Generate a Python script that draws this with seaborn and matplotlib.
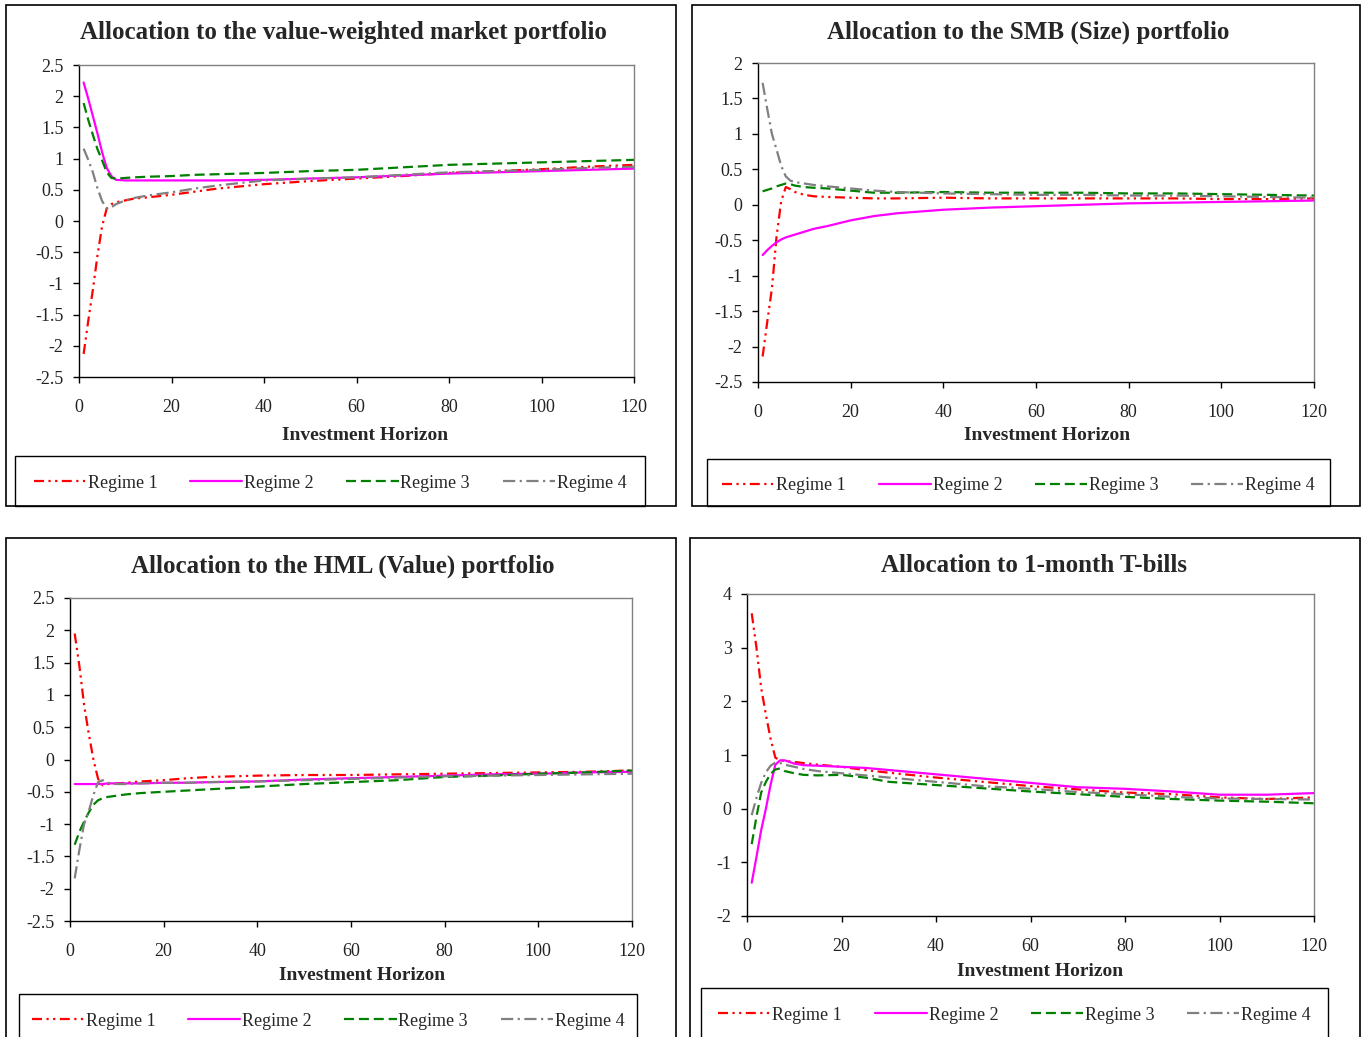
import numpy as np
import pandas as pd
import matplotlib
matplotlib.use('Agg')
import matplotlib.pyplot as plt
from matplotlib.patches import Rectangle
import seaborn as sns

sns.set_style('white')
plt.rcParams['font.family'] = ['Liberation Serif', 'DejaVu Serif']
plt.rcParams['axes.unicode_minus'] = False

# --- data ---
horizon = [1, 2, 3, 4, 5, 6, 7, 8, 10, 12, 15, 20, 25, 30, 40, 50, 60, 70, 80, 90, 100, 110, 120]
regimes = ['Regime 1', 'Regime 2', 'Regime 3', 'Regime 4']

titles = ['Allocation to the value-weighted market portfolio',
          'Allocation to the SMB (Size) portfolio',
          'Allocation to the HML (Value) portfolio',
          'Allocation to 1-month T-bills']

# market portfolio
mkt_r1 = [-2.13, -1.6, -1.1, -0.55, -0.08, 0.2, 0.27, 0.3, 0.33, 0.36, 0.38, 0.42, 0.47, 0.52, 0.59, 0.64, 0.68, 0.72, 0.77, 0.8, 0.83, 0.87, 0.9]
mkt_r2 = [2.22, 1.96, 1.68, 1.4, 1.1, 0.85, 0.72, 0.66, 0.65, 0.65, 0.65, 0.65, 0.65, 0.65, 0.66, 0.68, 0.7, 0.73, 0.76, 0.78, 0.8, 0.82, 0.84]
mkt_r3 = [1.89, 1.62, 1.38, 1.15, 0.97, 0.78, 0.69, 0.68, 0.69, 0.7, 0.71, 0.72, 0.74, 0.75, 0.77, 0.8, 0.82, 0.86, 0.9, 0.92, 0.94, 0.96, 0.98]
mkt_r4 = [1.16, 0.98, 0.78, 0.52, 0.32, 0.2, 0.22, 0.27, 0.33, 0.37, 0.41, 0.46, 0.52, 0.57, 0.65, 0.68, 0.7, 0.74, 0.78, 0.8, 0.82, 0.85, 0.87]

# SMB portfolio
smb_r1 = [-2.14, -1.65, -1.18, -0.45, 0.05, 0.25, 0.22, 0.18, 0.14, 0.12, 0.11, 0.1, 0.09, 0.09, 0.1, 0.09, 0.09, 0.09, 0.09, 0.09, 0.08, 0.08, 0.09]
smb_r2 = [-0.71, -0.64, -0.58, -0.53, -0.49, -0.46, -0.44, -0.42, -0.38, -0.34, -0.3, -0.22, -0.16, -0.12, -0.07, -0.04, -0.02, 0.0, 0.02, 0.03, 0.04, 0.05, 0.06]
smb_r3 = [0.19, 0.21, 0.23, 0.26, 0.28, 0.3, 0.29, 0.27, 0.25, 0.24, 0.23, 0.2, 0.17, 0.17, 0.18, 0.17, 0.17, 0.17, 0.16, 0.16, 0.15, 0.14, 0.13]
smb_r4 = [1.72, 1.35, 1.0, 0.78, 0.55, 0.4, 0.34, 0.32, 0.3, 0.28, 0.26, 0.23, 0.2, 0.18, 0.16, 0.15, 0.14, 0.14, 0.13, 0.13, 0.12, 0.11, 0.1]

# HML portfolio
hml_r1 = [1.95, 1.45, 0.85, 0.4, 0.0, -0.3, -0.4, -0.38, -0.37, -0.36, -0.34, -0.32, -0.29, -0.27, -0.25, -0.24, -0.24, -0.23, -0.22, -0.21, -0.2, -0.19, -0.17]
hml_r2 = [-0.38, -0.38, -0.38, -0.38, -0.38, -0.38, -0.38, -0.37, -0.37, -0.37, -0.37, -0.36, -0.36, -0.35, -0.34, -0.31, -0.29, -0.27, -0.25, -0.23, -0.22, -0.2, -0.19]
hml_r3 = [-1.32, -1.12, -0.96, -0.82, -0.7, -0.63, -0.6, -0.58, -0.56, -0.54, -0.52, -0.5, -0.48, -0.46, -0.42, -0.38, -0.35, -0.32, -0.27, -0.25, -0.22, -0.2, -0.17]
hml_r4 = [-1.84, -1.4, -1.0, -0.8, -0.55, -0.35, -0.32, -0.36, -0.38, -0.38, -0.37, -0.36, -0.36, -0.35, -0.34, -0.32, -0.3, -0.28, -0.26, -0.25, -0.24, -0.23, -0.22]

# T-bills
tb_r1 = [3.64, 3.0, 2.25, 1.75, 1.3, 0.95, 0.9, 0.89, 0.87, 0.85, 0.82, 0.78, 0.72, 0.67, 0.58, 0.5, 0.42, 0.36, 0.3, 0.27, 0.21, 0.18, 0.21]
tb_r2 = [-1.38, -0.9, -0.4, 0.0, 0.45, 0.82, 0.9, 0.9, 0.84, 0.81, 0.8, 0.78, 0.76, 0.72, 0.64, 0.56, 0.48, 0.4, 0.37, 0.32, 0.26, 0.26, 0.29]
tb_r3 = [-0.66, -0.15, 0.3, 0.5, 0.65, 0.73, 0.75, 0.7, 0.66, 0.63, 0.62, 0.63, 0.58, 0.5, 0.44, 0.38, 0.32, 0.27, 0.22, 0.18, 0.15, 0.13, 0.1]
tb_r4 = [-0.12, 0.2, 0.48, 0.68, 0.8, 0.86, 0.85, 0.82, 0.78, 0.74, 0.7, 0.66, 0.62, 0.58, 0.5, 0.42, 0.37, 0.31, 0.27, 0.22, 0.19, 0.18, 0.17]

panel_data = [[mkt_r1, mkt_r2, mkt_r3, mkt_r4],
              [smb_r1, smb_r2, smb_r3, smb_r4],
              [hml_r1, hml_r2, hml_r3, hml_r4],
              [tb_r1, tb_r2, tb_r3, tb_r4]]

ylims = [(-2.5, 2.5, 0.5), (-2.5, 2.0, 0.5), (-2.5, 2.5, 0.5), (-2.0, 4.0, 1.0)]

palette = {'Regime 1': '#FF0000', 'Regime 2': '#FF00FF', 'Regime 3': '#008000', 'Regime 4': '#808080'}
dashes = {'Regime 1': (4.5, 2, 1, 2, 1, 2), 'Regime 2': '',
          'Regime 3': (4.5, 2.2), 'Regime 4': (5.5, 2, 1, 2)}

# --- layout (pixel coords of the reference) ---
W, H = 1361, 1037
axes_px = [(79, 65, 634, 377), (758, 63, 1314, 382), (70, 598, 632, 921), (747, 594, 1314, 916)]
frames_px = [(6, 5, 676, 506), (692, 5, 1360, 506), (6, 538, 676, 1045), (690, 538, 1360, 1045)]
title_px = [(343, 32), (1028, 32), (343, 566), (1034, 566)]
xlabel_px = [(365, 435), (1047, 435), (362, 976), (1040, 971)]
legbox_px = [(15, 456, 645, 506), (707, 459, 1330, 506), (19, 994, 637, 1045), (701, 988, 1328, 1045)]


def fx(px):
    return px / W


def fy(py):
    return 1 - py / H


fig = plt.figure(figsize=(W / 100, H / 100), dpi=100)

for i in range(4):
    x0, y0, x1, y1 = axes_px[i]
    ax = fig.add_axes([fx(x0), fy(y1), (x1 - x0) / W, (y1 - y0) / H])

    rows = []
    for name, vals in zip(regimes, panel_data[i]):
        for h, v in zip(horizon, vals):
            rows.append((h, v, name))
    df = pd.DataFrame(rows, columns=['horizon', 'alloc', 'regime'])

    sns.lineplot(data=df, x='horizon', y='alloc', hue='regime', style='regime',
                 palette=palette, dashes=dashes, linewidth=1.6, legend=False, ax=ax)

    lo, hi, step = ylims[i]
    ax.set_xlim(0, 120)
    ax.set_ylim(lo, hi)
    ax.set_xticks(np.arange(0, 121, 20))
    ax.set_yticks(np.arange(lo, hi + 0.01, step))
    ax.set_yticklabels([f'{t:g}' for t in np.arange(lo, hi + 0.01, step)])
    ax.set_xlabel('')
    ax.set_ylabel('')
    ax.tick_params(axis='both', direction='out', length=4, width=1, color='black',
                   labelsize=13, labelcolor='#222222')
    ax.tick_params(axis='x', pad=12)
    ax.tick_params(axis='y', pad=7)
    ax.xaxis.set_ticks_position('bottom')
    ax.yaxis.set_ticks_position('left')
    for s in ['left', 'bottom']:
        ax.spines[s].set_color('black')
        ax.spines[s].set_linewidth(1.0)
    for s in ['top', 'right']:
        ax.spines[s].set_color('#808080')
        ax.spines[s].set_linewidth(1.0)

    # chart frame
    fx0, fy0, fx1, fy1 = frames_px[i]
    fig.add_artist(Rectangle((fx(fx0), fy(fy1)), (fx1 - fx0) / W, (fy1 - fy0) / H,
                             transform=fig.transFigure, fill=False, edgecolor='black', linewidth=1.2))

    # titles and axis label
    fig.text(fx(title_px[i][0]), fy(title_px[i][1]), titles[i], ha='center', va='center',
             fontsize=18, fontweight='bold')
    fig.text(fx(xlabel_px[i][0]), fy(xlabel_px[i][1]), 'Investment Horizon', ha='center', va='center',
             fontsize=14, fontweight='bold')

    # legend box and legend
    lx0, ly0, lx1, ly1 = legbox_px[i]
    fig.add_artist(Rectangle((fx(lx0), fy(ly1)), (lx1 - lx0) / W, (ly1 - ly0) / H,
                             transform=fig.transFigure, fill=False, edgecolor='black', linewidth=1.0))
    handles = ax.get_lines()[:4]
    cy = ly0 + 27
    ax.legend(handles, regimes, loc='center', bbox_to_anchor=(fx((lx0 + lx1) / 2), fy(cy)),
              bbox_transform=fig.transFigure, ncol=4, frameon=False, fontsize=13,
              handlelength=2.9, handletextpad=0.1, columnspacing=1.8)

fig.savefig('out.png', dpi=100)
